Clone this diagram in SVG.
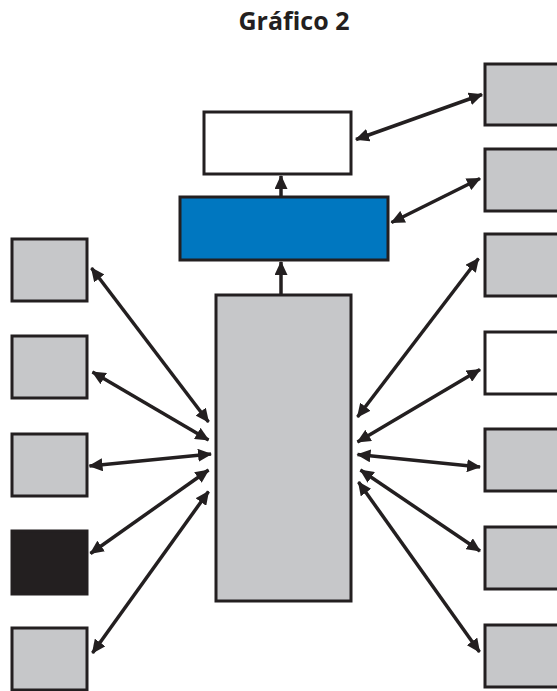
<svg xmlns="http://www.w3.org/2000/svg" width="557" height="691" viewBox="0 0 557 691">
<style>
.box{stroke:#231f20;stroke-width:3}
.g{fill:#c6c7c9}
.w{fill:#ffffff}
.b{fill:#0077c0}
.k{fill:#231f20}
.c line{stroke:#231f20;stroke-width:3.5;marker-end:url(#ah)}
.c line.d{marker-start:url(#ah)}
.t{font-family:"Open Sans","DejaVu Sans",sans-serif;font-weight:bold;font-size:25px;fill:#231f20}
</style>
<defs>
<marker id="ah" markerUnits="userSpaceOnUse" viewBox="0 0 14 13" refX="13" refY="6.5" markerWidth="14" markerHeight="13" orient="auto-start-reverse">
<path d="M0,0 L14,6.5 L0,13 z" fill="#231f20"/>
</marker>
</defs>
<rect width="557" height="691" fill="#ffffff"/>
<text class="t" x="294" y="30" text-anchor="middle">Gráfico 2</text>
<g id="top-white"><rect class="box w" x="204" y="112" width="147" height="62"/></g>
<g id="blue"><rect class="box b" x="180" y="197" width="208" height="63"/></g>
<g id="main"><rect class="box g" x="216" y="295" width="135" height="306"/></g>
<g id="l1"><rect class="box g" x="12" y="239" width="75" height="62"/></g>
<g id="l2"><rect class="box g" x="12" y="336" width="75" height="62"/></g>
<g id="l3"><rect class="box g" x="12" y="434" width="75" height="62"/></g>
<g id="l4"><rect class="box k" x="12" y="531" width="75" height="63"/></g>
<g id="l5"><rect class="box g" x="12" y="628" width="75" height="62"/></g>
<g id="r1"><rect class="box g" x="485" y="64" width="80" height="61"/></g>
<g id="r2"><rect class="box g" x="485" y="149" width="80" height="62"/></g>
<g id="r3"><rect class="box g" x="485" y="234" width="80" height="62"/></g>
<g id="r4"><rect class="box w" x="485" y="332" width="80" height="62"/></g>
<g id="r5"><rect class="box g" x="485" y="429" width="80" height="62"/></g>
<g id="r6"><rect class="box g" x="485" y="527" width="80" height="62"/></g>
<g id="r7"><rect class="box g" x="485" y="625" width="80" height="62"/></g>
<g class="c" id="connectors">
<line x1="281" y1="197" x2="281" y2="176"/>
<line x1="281" y1="294" x2="281" y2="262"/>
<line class="d" x1="356" y1="139.5" x2="482" y2="94.5"/>
<line class="d" x1="391.5" y1="222.5" x2="480" y2="178.5"/>
<line class="d" x1="91.5" y1="268" x2="208.5" y2="422"/>
<line class="d" x1="92.5" y1="372" x2="208.5" y2="440"/>
<line class="d" x1="89.5" y1="466" x2="211" y2="454"/>
<line class="d" x1="90.5" y1="553.5" x2="208.5" y2="470"/>
<line class="d" x1="92.5" y1="653" x2="208.5" y2="491.5"/>
<line class="d" x1="357.5" y1="417" x2="478.5" y2="258.5"/>
<line class="d" x1="357.5" y1="442" x2="480" y2="369.5"/>
<line class="d" x1="357.5" y1="454.5" x2="480" y2="467"/>
<line class="d" x1="360.5" y1="470" x2="480" y2="551"/>
<line class="d" x1="358.5" y1="482" x2="479.5" y2="652"/>
</g>
</svg>
